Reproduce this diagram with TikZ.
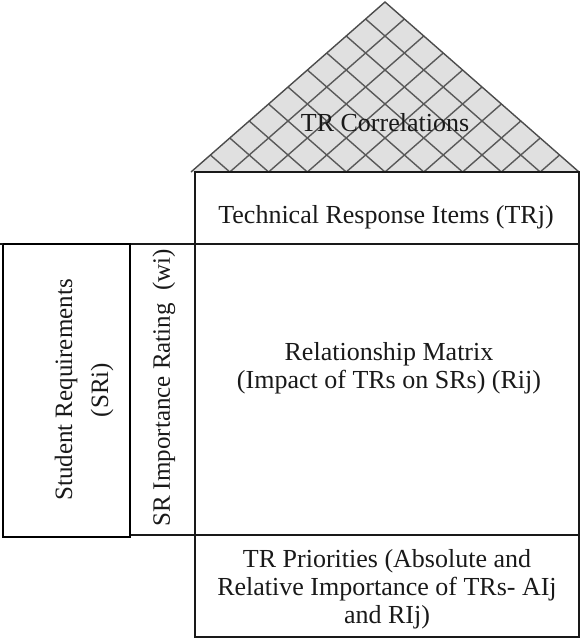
\documentclass[tikz,border=0pt]{standalone}
\usepackage{fontspec}
\setmainfont{Liberation Serif}
\usetikzlibrary{calc}
\begin{document}
\begin{tikzpicture}[x=1pt,y=-1pt,
  box/.style={draw=black!90,line width=1.6pt},
  lbl/.style={font=\fontsize{26}{28}\selectfont, align=center, text=black!90, inner sep=0pt},
  rlbl/.style={font=\fontsize{25}{36}\selectfont, align=center, rotate=90, text=black!90, inner sep=0pt},
  hatch/.style={draw=black!65, line width=1.4pt}]
\useasboundingbox (0,0) rectangle (584,640);
\coordinate (L) at (191,172);
\coordinate (R) at (579,172);
\coordinate (A) at (385,2);
\fill[black!12] (L) -- (A) -- (R) -- cycle;
\foreach \k in {1,...,9}{
  \draw[hatch] ($(L)!\k/10!(R)$) -- ($(A)!\k/10!(R)$);
  \draw[hatch] ($(L)!\k/10!(R)$) -- ($(L)!\k/10!(A)$);
}
\draw[line width=1.4pt, black!70] (L) -- (A) -- (R);
\draw[box] (195,172) rectangle (579,244);
\draw[box] (195,244) rectangle (579,535);
\draw[box] (195,535) rectangle (579,637);
\draw[box] (130,244) rectangle (195,535);
\draw[box, line width=2.4pt, draw=black] (3,244) rectangle (130,537);
\draw[box] (0,244) -- (3,244);
\node[lbl] (corr) at (385,123) {TR Correlations};
\node[lbl] (tri) at (386,217) {Technical Response Items (TRj)};
\node[lbl] (rm) at (389,368) {Relationship Matrix\\(Impact of TRs on SRs) (Rij)};
\node[lbl] (pri) at (387,589) {TR Priorities (Absolute and\\Relative Importance of TRs- AIj\\and RIj)};
\node[rlbl] (sr) at (84,390) {Student Requirements\\(SRi)};
\node[rlbl] (wi) at (164,388) {SR Importance Rating\ \ (wi)};
\end{tikzpicture}
\end{document}
